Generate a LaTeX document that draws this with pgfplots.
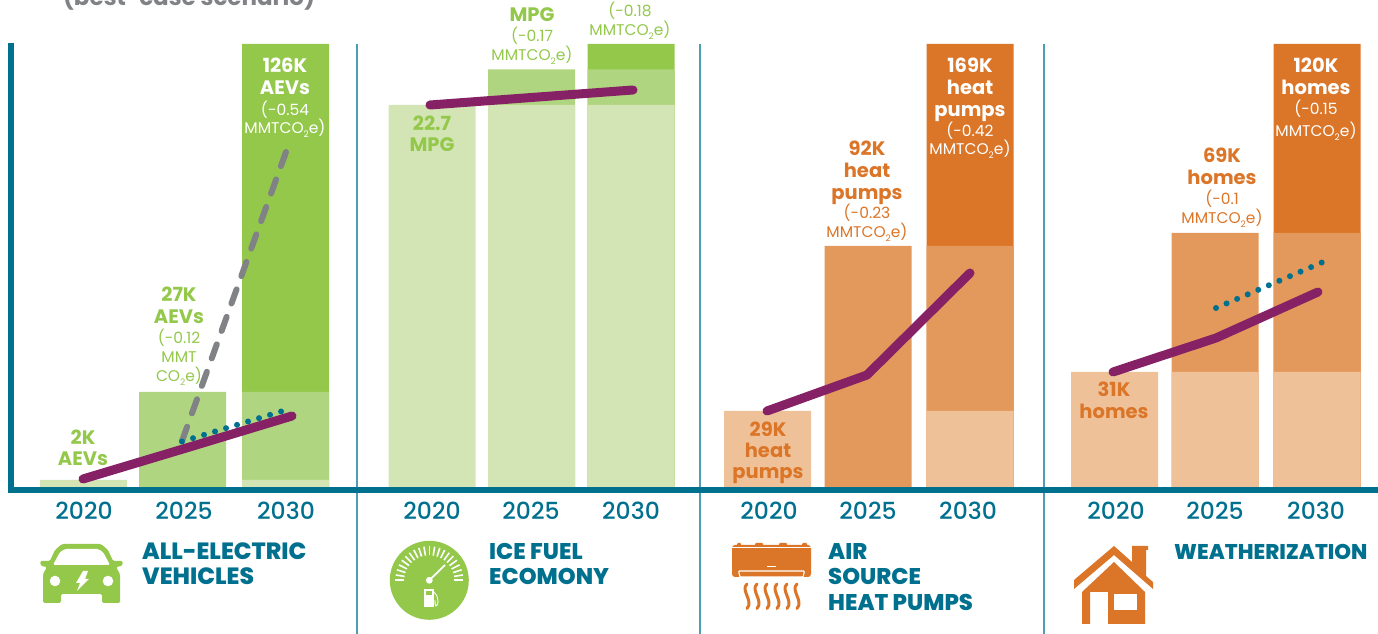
\documentclass[border=0pt]{standalone}
\usepackage{pgfplots}
\pgfplotsset{compat=1.18}
\usepackage{fontspec}
\setmainfont{Poppins}
\newfontfamily\heavy{Poppins ExtraBold}
\newfontfamily\medi{Poppins Medium}
\definecolor{gl}{HTML}{D3E5B4}
\definecolor{gm}{HTML}{B0D580}
\definecolor{gd}{HTML}{93C84B}
\definecolor{ol}{HTML}{EFC199}
\definecolor{om}{HTML}{E3985C}
\definecolor{od}{HTML}{DB7528}
\definecolor{teal1}{HTML}{00708F}
\definecolor{div1}{HTML}{4D9DB3}
\definecolor{purp}{HTML}{862165}
\definecolor{gray1}{HTML}{808285}
\newcommand{\bl}[4]{\node[text=#4,anchor=base,inner sep=0pt] at (#1,#2+7.5) {\fontsize{19.5pt}{22pt}\selectfont\bfseries #3};}
\newcommand{\sm}[4]{\node[text=#4,anchor=base,inner sep=0pt] at (#1,#2+5.5) {\fontsize{15.5pt}{18pt}\selectfont #3};}
\newcommand{\mm}{MMTCO\raisebox{-0.25em}{\fontsize{9pt}{9pt}\selectfont 2}e)}
\newcommand{\ti}[4][22.7pt]{\node[text=teal1,anchor=base west,inner sep=0pt] at (#2,#3+9) {\fontsize{#1}{24pt}\selectfont\heavy #4};}
\begin{document}
\begin{tikzpicture}
\clip (0,0) rectangle (1378pt,634pt);
\begin{axis}[at={(0,0)},anchor=south west,scale only axis,width=1378pt,height=634pt,
 xmin=0,xmax=1378,ymin=-147,ymax=487,clip=false,
 axis y line=none,axis x line=bottom,axis line style={draw=none},
 tick style={draw=none},
 xtick={84,184,286,432,531,631,769,868,968,1116,1215,1316},
 xticklabels={2020,2025,2030,2020,2025,2030,2020,2025,2030,2020,2025,2030},
 x tick label style={anchor=center,yshift=125pt,text=teal1,font=\fontsize{23.5pt}{25pt}\selectfont\medi},
 every axis plot/.append style={forget plot},
 ]
% bars: height above baseline
\addplot[ybar,bar width=87,bar shift=0pt,fill=gd,draw=none] coordinates {(285.5,443)(631,443)};
\addplot[ybar,bar width=87,bar shift=0pt,fill=gm,draw=none] coordinates {(182.5,95)(285.5,95)(531.5,417.5)(631,417.5)};
\addplot[ybar,bar width=87,bar shift=0pt,fill=gl,draw=none] coordinates {(83.5,7)(285.5,7)(432,382)(531.5,382)(631,382)};
\addplot[ybar,bar width=87,bar shift=0pt,fill=od,draw=none] coordinates {(970,443)(1317,443)};
\addplot[ybar,bar width=87,bar shift=0pt,fill=om,draw=none] coordinates {(868,241)(970,241)(1215,254)(1317,254)};
\addplot[ybar,bar width=87,bar shift=0pt,fill=ol,draw=none] coordinates {(767.5,76)(970,76)(1114.5,115)(1215,115)(1317,115)};
% best-case and other scenario lines
\addplot[gray1,line width=6pt,line cap=round,dash pattern=on 15pt off 14.2pt] coordinates {(286,335)(182,46)};
\addplot[teal1,line width=6pt,line cap=round,dash pattern=on 0pt off 11.5pt] coordinates {(182,45.5)(286,77)};
\addplot[teal1,line width=6pt,line cap=round,dash pattern=on 0pt off 11.5pt] coordinates {(1216,179)(1323,225)};
\addplot[purp,line width=9pt,line cap=round,line join=round] coordinates {(83,8)(183,38)(292,71)};
\addplot[purp,line width=9pt,line cap=round,line join=round] coordinates {(430,382)(633,397)};
\addplot[purp,line width=9pt,line cap=round,line join=round] coordinates {(767,76)(867,112)(970,214)};
\addplot[purp,line width=9pt,line cap=round,line join=round] coordinates {(1113,115)(1216,149)(1318,195)};
\end{axis}
\begin{scope}[x=1pt,y=-1pt,shift={(0pt,634pt)}]
% frame
\draw[div1,line width=1.6pt] (357,44)--(357,634) (700,44)--(700,634) (1044,44)--(1044,634);
\draw[teal1,line width=6pt] (11,43)--(11,490)--(1378,490);
% title remainder
\node[text=gray1,anchor=center,inner sep=0pt] at (189,-3) {\fontsize{23pt}{26pt}\selectfont\bfseries (best-case scenario)};
% labels panel 1
\bl{83}{437}{2K}{gd}\bl{83}{458}{AEVs}{gd}
\bl{179}{294}{27K}{gd}\bl{179}{316}{AEVs}{gd}
\sm{179}{338}{(-0.12}{gd}\sm{179}{357}{MMT}{gd}\sm{179}{376}{CO\raisebox{-0.25em}{\fontsize{9pt}{9pt}\selectfont 2}e)}{gd}
\bl{285}{65}{126K}{white}\bl{285}{87}{AEVs}{white}
\sm{285}{110}{(-0.54}{white}\sm{285}{128}{\mm}{white}
% panel 2
\bl{532}{14}{MPG}{gd}\sm{532}{36}{(-0.17}{gd}\sm{532}{55}{\mm}{gd}
\sm{630}{11}{(-0.18}{gd}\sm{630}{30}{\mm}{gd}
\bl{432}{123}{22.7}{gd}\bl{432}{144}{MPG}{gd}
% panel 3
\bl{768}{429}{29K}{od}\bl{768}{450}{heat}{od}\bl{768}{471}{pumps}{od}
\bl{867}{148}{92K}{od}\bl{867}{170}{heat}{od}\bl{867}{192}{pumps}{od}
\sm{867}{213}{(-0.23}{od}\sm{867}{232}{\mm}{od}
\bl{970}{65}{169K}{white}\bl{970}{87}{heat}{white}\bl{970}{109}{pumps}{white}
\sm{970}{131}{(-0.42}{white}\sm{970}{149}{\mm}{white}
% panel 4
\bl{1114}{389}{31K}{od}\bl{1114}{411}{homes}{od}
\bl{1222}{155}{69K}{od}\bl{1222}{177}{homes}{od}
\sm{1222}{199}{(-0.1}{od}\sm{1222}{218}{\mm}{od}
\bl{1316}{65}{120K}{white}\bl{1316}{87}{homes}{white}
\sm{1316}{109}{(-0.15}{white}\sm{1316}{131}{\mm}{white}
% category titles
\ti[23.5pt]{142}{551}{ALL-ELECTRIC}\ti[23.5pt]{142}{576}{VEHICLES}
\ti{489}{551}{ICE FUEL}\ti{489}{576}{ECOMONY}
\ti{828}{551}{AIR}\ti{828}{576}{SOURCE}\ti{828}{602}{HEAT PUMPS}
\ti[21.3pt]{1174}{551}{WEATHERIZATION}
% car icon
\fill[gd,rounded corners=1.5pt] (40,561)--(50,561)--(55,550)--(62,544)--(101,544)--(108,550)--(113,561)--(123,561)--(122,566)--(116,567)--(120,574)--(120,603)--(102,603)--(102,594)--(61,594)--(61,603)--(43,603)--(43,574)--(47,567)--(41,566)--cycle;
\fill[white,rounded corners=1.5pt] (53,565)--(60,552)--(65,549)--(98,549)--(103,552)--(110,565)--cycle;
\fill[white] (55,581) circle (5.3) (108,581) circle (5.3);
\fill[white] (83,571)--(88,571)--(85,579)--(89,579)--(77,591)--(80,583)--(76,583)--cycle;
% gauge icon
\fill[gd] (429.3,580.3) circle (39.5);
\foreach \a in {0,9,...,180}{\draw[white,line width=1.6pt] (429.3,580.3)+({cos(\a)*25},{-sin(\a)*25}) -- +({cos(\a)*34},{-sin(\a)*34});}
\draw[white,line width=1.8pt] (429.3,580.3)--(445,565);
\fill[white] (429.3,580.3) circle (3.4);
\fill[white] (424,589) rectangle (434,607);
\fill[gd] (426,591) rectangle (432,595);
\draw[white,line width=0.9pt] (434,592) .. controls (439,596) and (439,606) .. (436,606) .. controls (435,606) and (435,603) .. (435,600);
% AC icon
\fill[od,rounded corners=3pt] (732,545)--(811,545)--(811,577)--(732,577)--cycle;
\fill[od,rounded corners=1pt] (737,543) rectangle (741,546) (755,543) rectangle (763,546) (779,543) rectangle (787,546) (802,543) rectangle (807,546);
\fill[white] (732,547) rectangle (811,547.8);
\fill[white] (767,565.8) rectangle (776,567.3);
\draw[white,line width=1.1pt,rounded corners=1pt] (740,577)--(738.5,571)--(804.5,571)--(803,577)--cycle;
\fill[od] (740.5,572) rectangle (802.5,576);
\foreach \x in {747,757,767,777,787,797}{\draw[od,line width=3pt,line cap=round] (\x,584) .. controls (\x-7,590) and (\x+7,601) .. (\x,608.5);}
% house icon
\fill[od] (1074,589)--(1074,580)--(1114,546)--(1132,562)--(1132,546)--(1148,546)--(1148,550)--(1146,550)--(1146,576)--(1153,582)--(1153,589)--(1114,555)--cycle;
\fill[od] (1082,592)--(1114,562)--(1145,592)--(1145,624)--(1108,624)--(1108,592)--(1090,592)--(1090,624)--(1082,624)--cycle;
\fill[white] (1114,594) rectangle (1137,610);
\end{scope}
\end{tikzpicture}
\end{document}
